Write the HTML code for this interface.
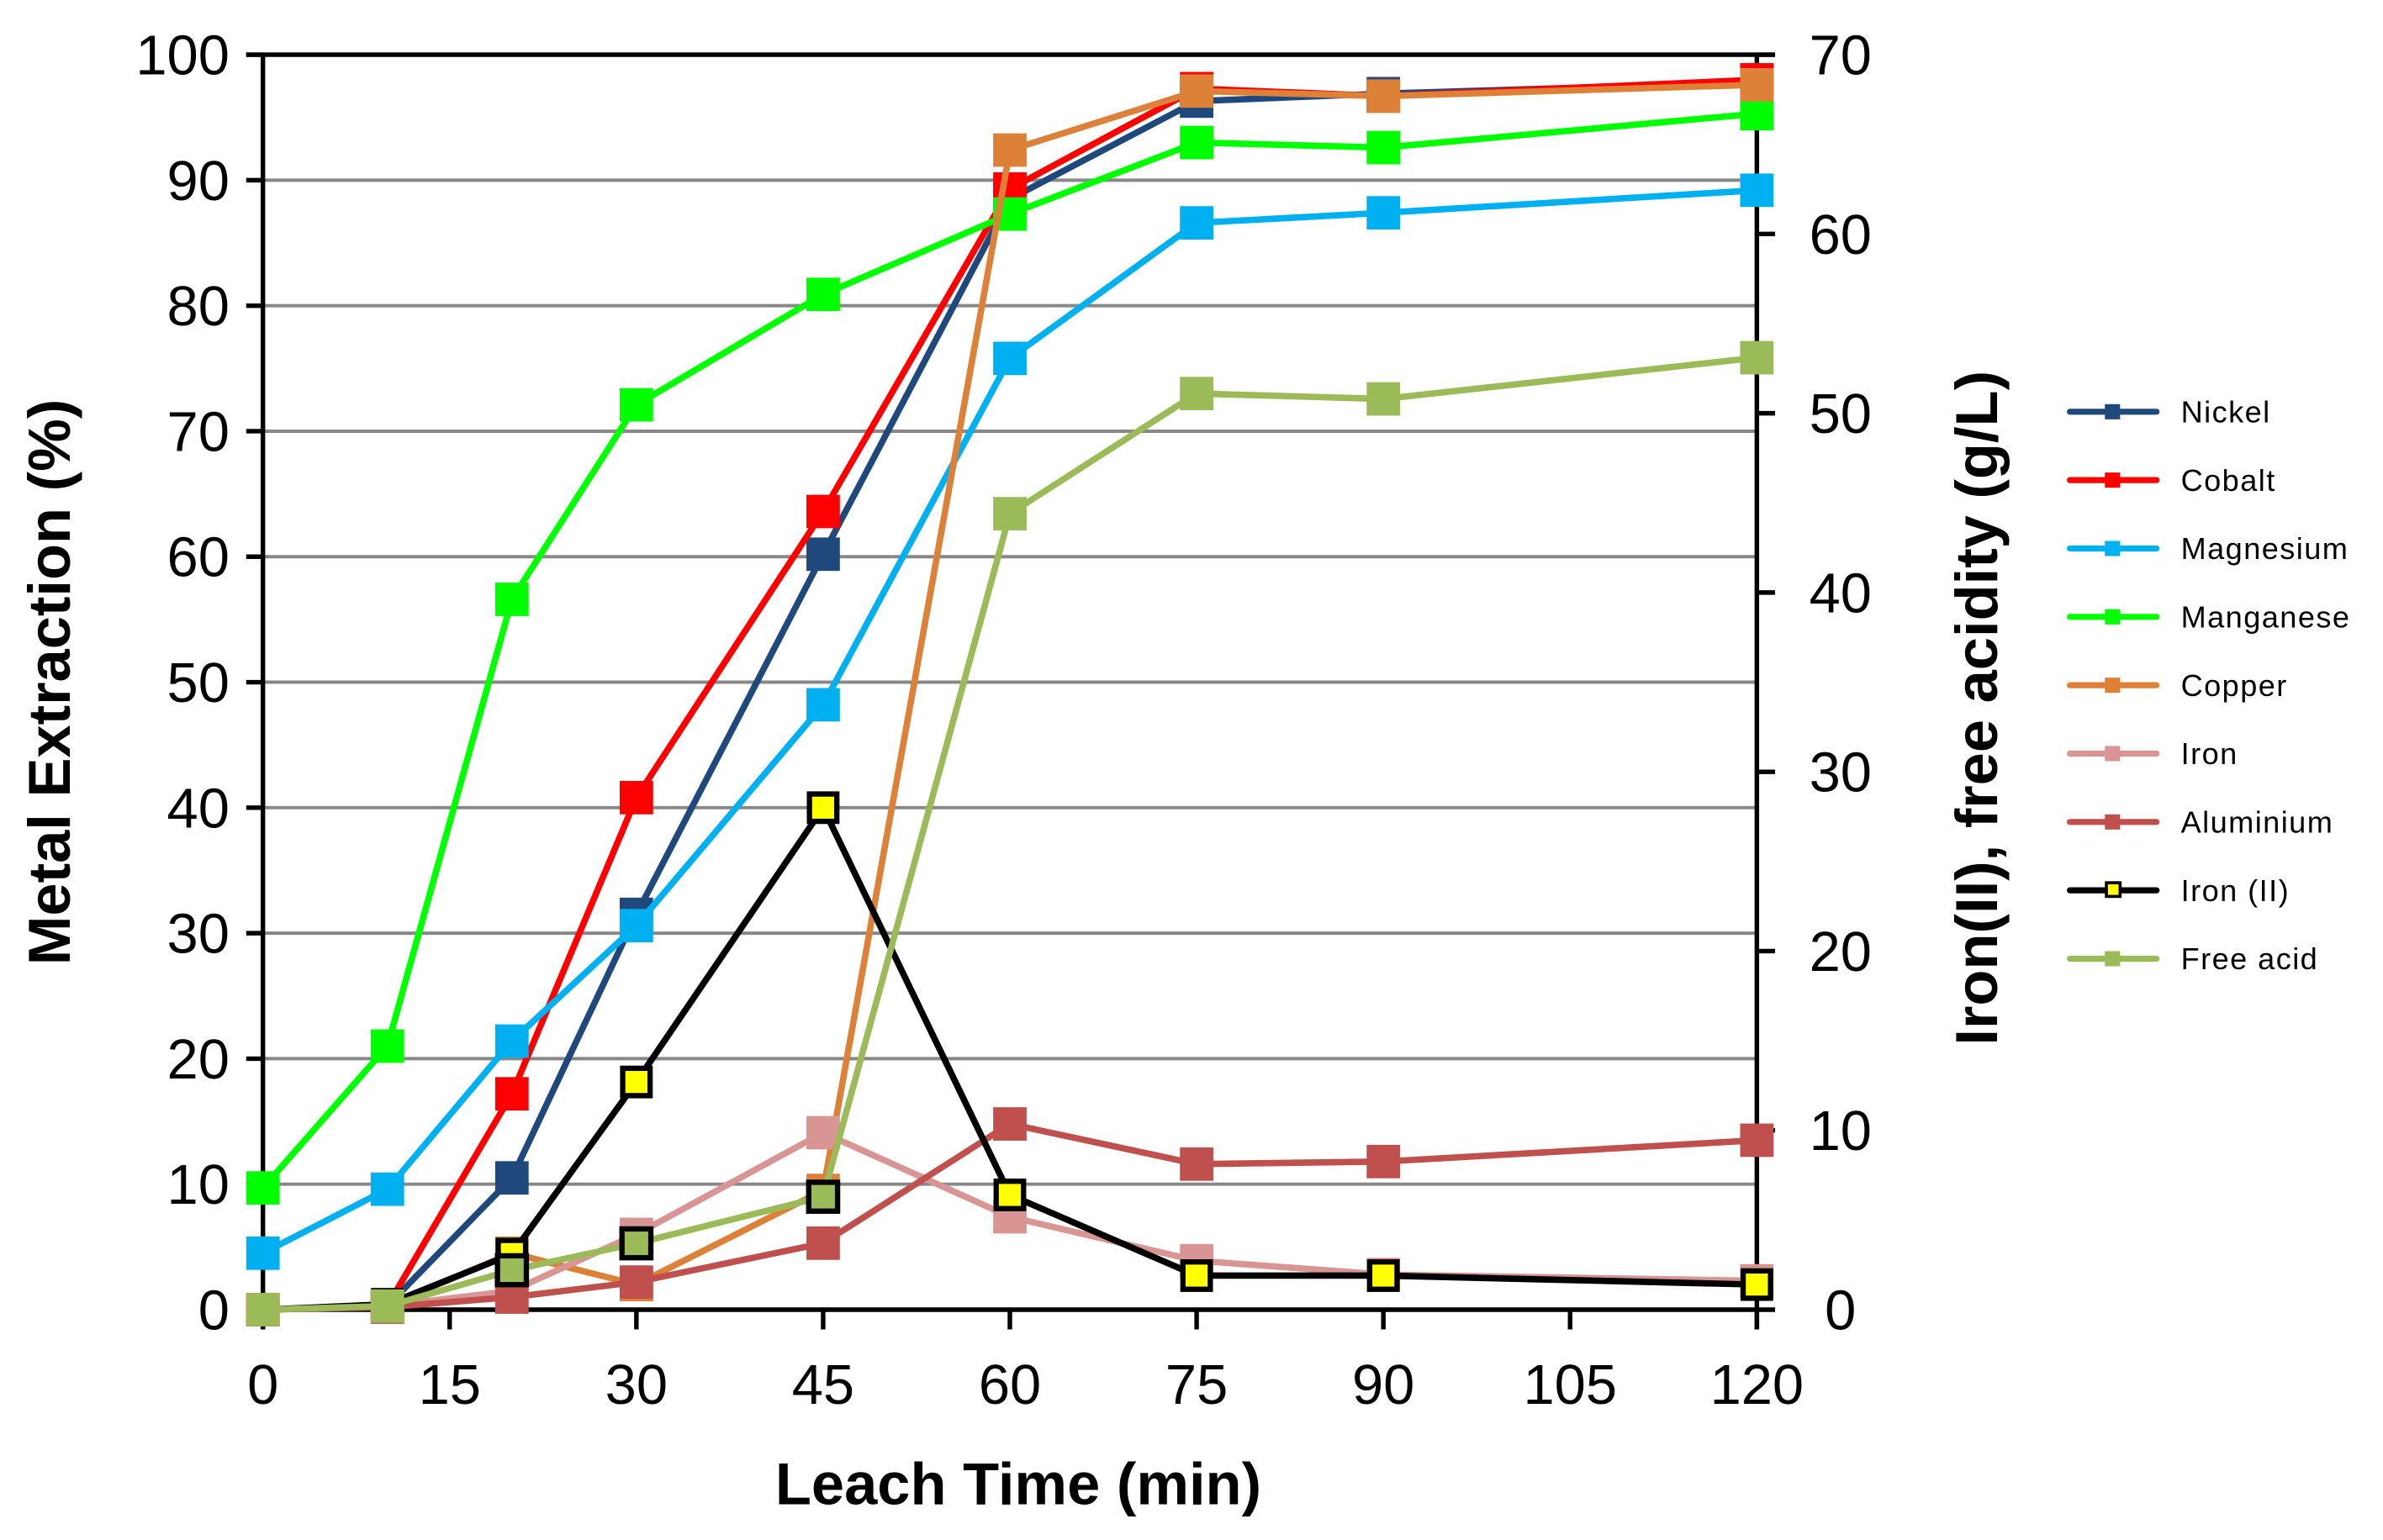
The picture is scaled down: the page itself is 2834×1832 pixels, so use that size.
<!DOCTYPE html>
<html><head><meta charset="utf-8"><style>
html,body{margin:0;padding:0;background:#fff}
svg{display:block;font-family:"Liberation Sans",Arial,sans-serif}
</style></head><body>
<svg id="chart" width="2834" height="1832" viewBox="0 0 1568 1013.6" xmlns="http://www.w3.org/2000/svg">
<g id="grid"></g><g id="axes"></g><g id="series"></g><g id="legend"></g>
<text x="0" y="0" transform="translate(46,449) rotate(-90)" text-anchor="middle" font-size="39" font-weight="bold">Metal Extraction (%)</text>
<text x="0" y="0" transform="translate(1314,466) rotate(-90)" text-anchor="middle" font-size="39" font-weight="bold">Iron(II),  free acidity (g/L)</text>
<text x="670" y="990" text-anchor="middle" font-size="39" font-weight="bold">Leach Time (min)</text>
</svg>
<script>
const times=[0,10,20,30,45,60,75,90,120];
const xTicks=[0,15,30,45,60,75,90,105,120];
const yTicks=[0,10,20,30,40,50,60,70,80,90,100];
const y2Ticks=[0,10,20,30,40,50,60,70];
const nickel=[0,0.3,10.5,31.5,60.2,88.5,96.3,96.9,97.8];
const cobalt=[0,0.3,17.2,40.8,63.6,89.3,97.3,96.7,98.0];
const magnesium=[4.5,9.6,21.4,30.6,48.2,75.8,86.6,87.4,89.2];
const manganese=[9.7,21.0,56.6,72.1,80.9,87.3,93.0,92.6,95.3];
const copper=[0,0.3,4.5,2.0,9.5,92.4,97.1,96.7,97.6];
const iron=[0,0.3,1.5,6.0,14.1,7.4,3.9,2.8,2.3];
const aluminium=[0,0.2,1.0,2.2,5.3,14.8,11.6,11.8,13.5];
const ironII=[0,0.3,3.1,12.7,28.0,6.4,1.9,1.9,1.4];
const freeAcid=[0,0.2,2.2,3.7,6.3,44.4,51.1,50.8,53.1];
const seriesNames=["Nickel","Cobalt","Magnesium","Manganese","Copper","Iron","Aluminium","Iron (II)","Free acid"];

const X0=173,X1=1156,YT=36,YB=862;
const xs=v=>X0+(v/120)*(X1-X0);
const ys=v=>YB-(v/100)*(YB-YT);
const y2s=v=>YB-(v/70)*(YB-YT);
const NS="http://www.w3.org/2000/svg";
function mk(tag,attrs,parent){const e=document.createElementNS(NS,tag);for(const k in attrs)e.setAttribute(k,attrs[k]);parent.appendChild(e);return e;}
const gridG=document.getElementById('grid'),axesG=document.getElementById('axes'),serG=document.getElementById('series'),legG=document.getElementById('legend');

yTicks.forEach(t=>{
  if(t>0&&t<100){const g=mk('line',{x1:X0,x2:X1,y1:ys(t),y2:ys(t),stroke:'#888',"stroke-width":2.2},gridG);
  
  }
  const tk=mk('line',{x1:X0-11,x2:X0,y1:ys(t),y2:ys(t),stroke:'#000',"stroke-width":3},axesG);
  
  
  const lb=mk('text',{x:X0-22,y:ys(t)+13,"text-anchor":"end","font-size":37},axesG);lb.textContent=t;
  
  
});
y2Ticks.forEach(t=>{
  const tk=mk('line',{x1:X1,x2:X1+12,y1:y2s(t),y2:y2s(t),stroke:'#000',"stroke-width":3},axesG);
  
  
  const lb=mk('text',{x:X1+55,y:y2s(t)+13,"text-anchor":"middle","font-size":37},axesG);lb.textContent=t;
  
  
});
xTicks.forEach(t=>{
  const tk=mk('line',{x1:xs(t),x2:xs(t),y1:YB,y2:YB+13,stroke:'#000',"stroke-width":3},axesG);
  
  
  const lb=mk('text',{x:xs(t),y:YB+62,"text-anchor":"middle","font-size":37},axesG);lb.textContent=t;
  
  
});
const topBorder=mk('line',{x1:X0-11,x2:X1+12,y1:YT,y2:YT,stroke:'#000',"stroke-width":3},axesG);


const la=mk('line',{x1:X0,x2:X0,y1:YT,y2:YB+13,stroke:'#000',"stroke-width":3},axesG);


const ra=mk('line',{x1:X1,x2:X1,y1:YT,y2:YB+13,stroke:'#000',"stroke-width":3},axesG);


const ba=mk('line',{x1:X0,x2:X1,y1:YB,y2:YB,stroke:'#000',"stroke-width":3},axesG);



const defs=[
 {d:nickel,c:'#1F497D',ax:ys,slug:'nickel'},
 {d:cobalt,c:'#FF0000',ax:ys,slug:'cobalt'},
 {d:magnesium,c:'#00B0F0',ax:ys,slug:'magnesium'},
 {d:manganese,c:'#00FF00',ax:ys,slug:'manganese'},
 {d:copper,c:'#DD8139',ax:ys,slug:'copper'},
 {d:iron,c:'#D99594',ax:ys,slug:'iron'},
 {d:aluminium,c:'#C0504D',ax:ys,slug:'aluminium'},
 {d:ironII,c:'#000000',ax:y2s,slug:'iron-ii',fill:'#FFFF00'},
 {d:freeAcid,c:'#9BBB59',ax:y2s,slug:'free-acid',outline:[2,3,4]}
];
defs.forEach((s,si)=>{
  const g=mk('g',{},serG);
  
  
  const pts=s.d.map((v,i)=>xs(times[i])+','+s.ax(v)).join(' ');
  const pl=mk('polyline',{points:pts,fill:'none',stroke:s.c,"stroke-width":4.2,"stroke-linejoin":"round"},g);
  
  
  s.d.forEach((v,i)=>{
    const cx=xs(times[i]),cy=s.ax(v);
    let r;
    if(s.fill){r=mk('rect',{x:cx-9,y:cy-9,width:18,height:18,fill:s.fill,stroke:'#000',"stroke-width":3.5},g);}
    else if(s.outline&&s.outline.includes(i)){r=mk('rect',{x:cx-9.5,y:cy-9.5,width:19,height:19,fill:s.c,stroke:'#000',"stroke-width":3.5},g);}
    else{r=mk('rect',{x:cx-11,y:cy-11,width:22,height:22,fill:s.c},g);}
    
    
  });
  const ly=271+si*45;
  const lg=mk('g',{},legG);
  
  
  mk('line',{x1:1362,x2:1419,y1:ly,y2:ly,stroke:s.c,"stroke-width":4,"stroke-linecap":"round"},lg);
  if(s.fill) mk('rect',{x:1386,y:ly-5,width:9,height:9,fill:s.fill,stroke:'#000',"stroke-width":2},lg);
  else mk('rect',{x:1385,y:ly-5,width:10,height:10,fill:s.c},lg);
  const t=mk('text',{x:1435,y:ly+7,"font-size":20,"letter-spacing":"0.8"},lg);t.textContent=seriesNames[si];
});
</script>
</body></html>
